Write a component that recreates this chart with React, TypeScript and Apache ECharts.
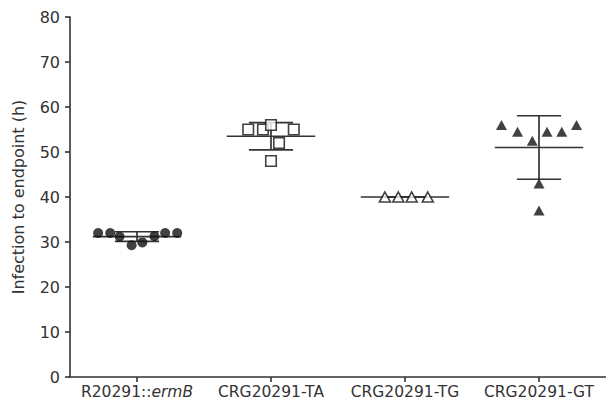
import React, { useEffect, useRef } from "react";
import * as echarts from "echarts";

const categories = ["R20291::ermB", "CRG20291-TA", "CRG20291-TG", "CRG20291-GT"];
const yTicks = [0, 10, 20, 30, 40, 50, 60, 70, 80];

// values (hours)
const ermBValues = [32, 32, 31.2, 29.3, 29.9, 31.3, 32, 32];
const ermBJitter = [-0.29, -0.2, -0.13, -0.04, 0.04, 0.13, 0.21, 0.3];

const taValues = [55, 55, 56, 55, 52, 48];
const taJitter = [-0.17, -0.06, 0, 0.17, 0.06, 0];

const tgValues = [40, 40, 40, 40];
const tgJitter = [-0.15, -0.05, 0.05, 0.17];

const gtValues = [56, 54.5, 52.5, 54.5, 54.5, 56, 43, 37];
const gtJitter = [-0.28, -0.16, -0.05, 0.06, 0.17, 0.28, 0, 0];

const groups = [
  { values: ermBValues, jitter: ermBJitter },
  { values: taValues, jitter: taJitter },
  { values: tgValues, jitter: tgJitter },
  { values: gtValues, jitter: gtJitter },
];

function meanSd(v: number[]) {
  const m = v.reduce((a, b) => a + b, 0) / v.length;
  const s = Math.sqrt(v.reduce((a, b) => a + (b - m) * (b - m), 0) / (v.length - 1));
  return [m, s];
}

const FONT = "DejaVu Sans";
const TEXT = "#333333";
const LINE = "#333333";
const MARK = "#111111";

export default function App() {
  const ref = useRef<HTMLDivElement>(null);
  useEffect(() => {
    if (!ref.current) return;
    const chart = echarts.init(ref.current, undefined, { renderer: "svg" });

    const toPoints = (g: { values: number[]; jitter: number[] }, i: number) =>
      g.values.map((v, k) => [i + g.jitter[k], v]);

    const stats = groups.map((g, i) => {
      const [m, s] = meanSd(g.values);
      return [i, m, s];
    });

    const scatterBase = {
      type: "scatter",
      xAxisIndex: 1,
      yAxisIndex: 0,
      z: 3,
      silent: true,
    };

    chart.setOption({
      animation: false,
      grid: { left: 70, right: 0, top: 17, bottom: 30, containLabel: false },
      xAxis: [
        {
          type: "category",
          data: categories,
          boundaryGap: true,
          axisLine: { show: true, onZero: false, lineStyle: { color: LINE, width: 1.6 } },
          axisTick: { show: true, alignWithLabel: true, length: 5, lineStyle: { color: LINE, width: 1.6 } },
          axisLabel: {
            interval: 0,
            color: TEXT,
            fontFamily: FONT,
            fontSize: 15.5,
            margin: 7,
            formatter: (v: string) => v.replace("ermB", "{i|ermB}"),
            rich: {
              i: { fontStyle: "italic", color: TEXT, fontFamily: FONT, fontSize: 15.5 },
            },
          },
          splitLine: { show: false },
        },
        {
          type: "value",
          min: -0.5,
          max: 3.5,
          show: false,
          splitLine: { show: false },
        },
      ],
      yAxis: {
        type: "value",
        min: yTicks[0],
        max: yTicks[yTicks.length - 1],
        interval: 10,
        name: "Infection to endpoint (h)",
        nameLocation: "middle",
        nameGap: 44,
        nameTextStyle: { color: TEXT, fontFamily: FONT, fontSize: 16 },
        axisLine: { show: true, onZero: false, lineStyle: { color: LINE, width: 1.6 } },
        axisTick: { show: true, length: 5, lineStyle: { color: LINE, width: 1.6 } },
        axisLabel: { color: TEXT, fontFamily: FONT, fontSize: 16, margin: 10 },
        splitLine: { show: false },
      },
      series: [
        {
          type: "custom",
          xAxisIndex: 1,
          yAxisIndex: 0,
          z: 2,
          silent: true,
          data: stats,
          renderItem: (_p: any, api: any) => {
            const x = api.value(0);
            const m = api.value(1);
            const s = api.value(2);
            const style = { stroke: LINE, lineWidth: 1.7, fill: "none" };
            const c = (a: number, b: number) => api.coord([a, b]);
            const seg = (p1: number[], p2: number[]) => ({
              type: "line",
              shape: { x1: p1[0], y1: p1[1], x2: p2[0], y2: p2[1] },
              style,
            });
            return {
              type: "group",
              children: [
                seg(c(x - 0.33, m), c(x + 0.33, m)),
                seg(c(x, m - s), c(x, m + s)),
                seg(c(x - 0.165, m + s), c(x + 0.165, m + s)),
                seg(c(x - 0.165, m - s), c(x + 0.165, m - s)),
              ],
            };
          },
        },
        {
          ...scatterBase,
          name: categories[0],
          data: toPoints(groups[0], 0),
          symbol: "circle",
          symbolSize: 10,
          itemStyle: { color: MARK },
        },
        {
          ...scatterBase,
          name: categories[1],
          data: toPoints(groups[1], 1),
          symbol: "rect",
          symbolSize: 10.5,
          itemStyle: { color: "#ffffff", borderColor: MARK, borderWidth: 1.6 },
        },
        {
          ...scatterBase,
          name: categories[2],
          data: toPoints(groups[2], 2),
          symbol: "triangle",
          symbolSize: [11, 10],
          itemStyle: { color: "#ffffff", borderColor: MARK, borderWidth: 1.6 },
        },
        {
          ...scatterBase,
          name: categories[3],
          data: toPoints(groups[3], 3),
          symbol: "triangle",
          symbolSize: [11, 10],
          itemStyle: { color: MARK },
        },
      ],
    });
    return () => chart.dispose();
  }, []);

  return (
    <div
      ref={ref}
      style={{ position: "absolute", left: 0, top: 0, width: 606, height: 407, background: "#fff" }}
    />
  );
}
